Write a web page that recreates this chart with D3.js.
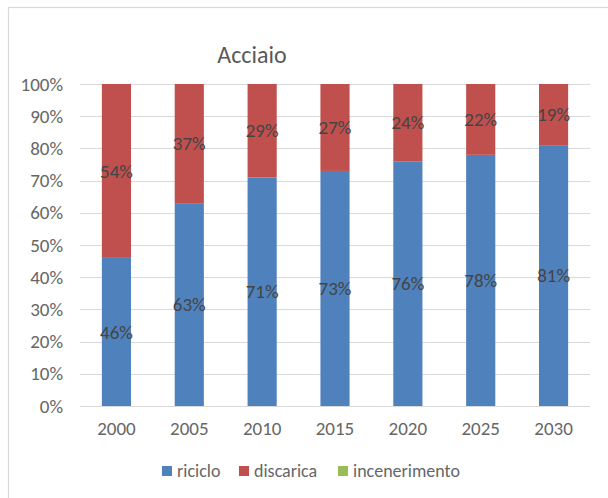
<!DOCTYPE html>
<html>
<head>
<meta charset="utf-8">
<script src="https://cdn.jsdelivr.net/npm/d3@7"></script>
<style>
  body { margin: 0; background: #fff; }
  text { font-family: Carlito, Calibri, "Liberation Sans", Arial, sans-serif; }
</style>
</head>
<body>
<div id="chart"></div>
<script>
// data
var years = ["2000", "2005", "2010", "2015", "2020", "2025", "2030"];
var riciclo = [46, 63, 71, 73, 76, 78, 81];
var discarica = [54, 37, 29, 27, 24, 22, 19];
var incenerimento = [0, 0, 0, 0, 0, 0, 0];
var seriesNames = ["riciclo", "discarica", "incenerimento"];
var yTicks = [0, 10, 20, 30, 40, 50, 60, 70, 80, 90, 100];

var colors = {riciclo: "#4F81BD", discarica: "#C0504D", incenerimento: "#9BBB59"};

var W = 608, H = 498;
var margin = {top: 84, right: 18, bottom: 92, left: 80},
    width = W - margin.left - margin.right,
    height = H - margin.top - margin.bottom;

var font = 'Carlito, Calibri, "Liberation Sans", Arial, sans-serif';

var svg = d3.select("#chart").append("svg")
    .attr("width", W)
    .attr("height", H);

// chart frame
svg.append("rect")
    .attr("x", 8.5).attr("y", 7.5)
    .attr("width", 700).attr("height", 600)
    .attr("fill", "none")
    .attr("stroke", "#D9D9D9")
    .attr("stroke-width", 1.2);

svg.append("text")
    .attr("x", 252)
    .attr("y", 63)
    .attr("text-anchor", "middle")
    .attr("font-size", "24px")
    .attr("fill", "#595959")
    .text("Acciaio");

var g = svg.append("g")
    .attr("transform", "translate(" + margin.left + "," + margin.top + ")");

var x = d3.scaleBand()
    .domain(years)
    .range([0, width])
    .paddingInner(0.6)
    .paddingOuter(0.3);

var y = d3.scaleLinear()
    .domain([0, 100])
    .range([height, 0]);

// gridlines
g.selectAll(".grid")
    .data(yTicks)
    .enter().append("line")
    .attr("x1", 0).attr("x2", width)
    .attr("y1", function(d) { return Math.round(y(d)) + 0.5; })
    .attr("y2", function(d) { return Math.round(y(d)) + 0.5; })
    .attr("stroke", "#D9D9D9")
    .attr("stroke-width", 1);

// y axis labels
var yAxis = g.append("g")
    .call(d3.axisLeft(y).tickValues(yTicks).tickSize(0).tickPadding(17)
        .tickFormat(function(d) { return d + "%"; }));
yAxis.select(".domain").remove();
yAxis.selectAll("text")
    .attr("font-size", "19px")
    .attr("fill", "#666666")
    .style("font-family", font);

// x axis labels
var xAxis = g.append("g")
    .attr("transform", "translate(0," + height + ")")
    .call(d3.axisBottom(x).tickSize(0).tickPadding(16));
xAxis.select(".domain").remove();
xAxis.selectAll("text")
    .attr("font-size", "19px")
    .attr("fill", "#666666")
    .style("font-family", font);

// stacked data
var table = years.map(function(yr, i) {
    return {year: yr, riciclo: riciclo[i], discarica: discarica[i], incenerimento: incenerimento[i]};
});
var stacked = d3.stack().keys(seriesNames)(table);

var layers = g.selectAll(".layer")
    .data(stacked)
    .enter().append("g")
    .attr("fill", function(d) { return colors[d.key]; });

layers.selectAll("rect")
    .data(function(d) { return d; })
    .enter().append("rect")
    .attr("x", function(d) { return x(d.data.year); })
    .attr("width", x.bandwidth())
    .attr("y", function(d) { return y(d[1]); })
    .attr("height", function(d) { return y(d[0]) - y(d[1]); });

// data labels (only for non-zero segments)
stacked.forEach(function(layer) {
    g.selectAll(".lbl-" + layer.key)
        .data(layer.filter(function(d) { return d[1] - d[0] > 0; }))
        .enter().append("text")
        .attr("x", function(d) { return x(d.data.year) + x.bandwidth() / 2; })
        .attr("y", function(d) { return (y(d[0]) + y(d[1])) / 2; })
        .attr("dy", "0.35em")
        .attr("text-anchor", "middle")
        .attr("font-size", "19px")
        .attr("fill", "#444444")
        .text(function(d) { return (d[1] - d[0]) + "%"; });
});

// legend
var legendX = [162, 239, 338];
var legend = svg.selectAll(".legend")
    .data(seriesNames)
    .enter().append("g")
    .attr("transform", function(d, i) { return "translate(" + legendX[i] + ",466)"; });

legend.append("rect")
    .attr("width", 10).attr("height", 10)
    .attr("fill", function(d) { return colors[d]; });

legend.append("text")
    .attr("x", 15)
    .attr("y", 5)
    .attr("dy", "0.35em")
    .attr("font-size", "18px")
    .attr("fill", "#666666")
    .text(function(d) { return d; });
</script>
</body>
</html>
